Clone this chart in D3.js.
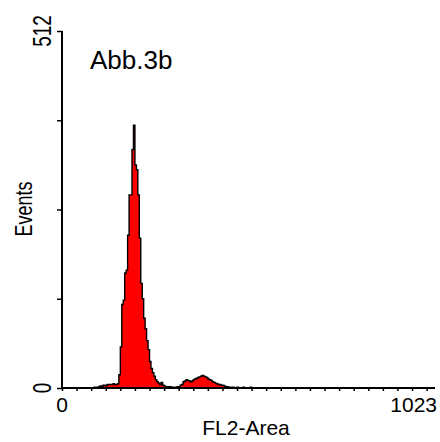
<!DOCTYPE html>
<html>
<head>
<meta charset="utf-8">
<script src="https://cdn.jsdelivr.net/npm/d3@7"></script>
<style>
body { margin: 0; background: #fff; }
text { font-family: Arial, "Liberation Sans", sans-serif; fill: #000; }
</style>
</head>
<body>
<div id="chart"></div>
<script>
// histogram counts, 4 channels per bin, first bin starts at channel 88
const binWidth = 4
const firstChannel = 88
const counts = [
	1, 0, 1, 2, 3, 2, 4, 4, 3, 5, 5, 5, 5, 6, 5, 5, 6,
	19, 59, 120, 126, 165, 169, 219, 277, 277, 342, 377,
	320, 313, 277, 215, 150, 128, 100, 85, 68, 55, 38,
	28, 22, 17, 12, 9, 7, 5, 8, 4, 3,
	2, 2, 1, 2, 1, 1, 1, 1, 2, 1, 4, 5,
	9, 10, 12, 11, 10, 9, 10, 12, 13, 14, 15, 16, 17, 18, 17, 16, 15, 13, 12, 11, 9, 8, 7, 6, 5, 5, 4, 4, 3, 2, 2, 1, 1,
	0, 1, 0, 0, 1, 0, 0, 0, 1, 0, 0, 0, 0, 1, 0, 0, 0, 0, 0, 0
]
const xTicks = d3.range(0, 1024, 40)
const yTicks = [0, 128, 256, 384, 512]
const xLabels = [0, 1023]
const yLabels = [0, 512]
const title = "Abb.3b"
const xTitle = "FL2-Area"
const yTitle = "Events"

const width = 440, height = 442

const svg = d3.select("#chart").append("svg").attr("width", width).attr("height", height)

const x = d3.scaleLinear().domain([0, 1023]).range([62, 435])
const y = d3.scaleLinear().domain([0, 512]).range([388, 31])

let points = counts.map((c, i) => ({ ch: firstChannel + i * binWidth, c: c }))
points.unshift({ ch: 0, c: 0 })
points.push({ ch: firstChannel + counts.length * binWidth, c: 0 })
points.push({ ch: 1023, c: 0 })

const area = d3.area()
	.curve(d3.curveStepAfter)
	.x(d => x(d.ch))
	.y0(y(0))
	.y1(d => y(d.c))

const line = d3.line()
	.curve(d3.curveStepAfter)
	.x(d => x(d.ch))
	.y(d => y(d.c))

svg.append("path").datum(points).attr("d", area).attr("fill", "#ff0000")
svg.append("path").datum(points).attr("d", line)
	.attr("fill", "none").attr("stroke", "#000").attr("stroke-width", 1.4)

// axes
const xAxis = svg.append("g").attr("transform", `translate(0, ${y(0)})`)
	.call(d3.axisBottom(x).tickValues(xTicks).tickSize(3).tickFormat(""))
xAxis.select(".domain").attr("d", `M${x(0)},0H${x(1023)}`).attr("stroke-width", 2)
xAxis.selectAll(".tick line").attr("stroke-width", 1.5)

const yAxis = svg.append("g").attr("transform", `translate(${x(0)}, 0)`)
	.call(d3.axisLeft(y).tickValues(yTicks).tickSize(5).tickFormat(""))
yAxis.select(".domain").attr("d", `M0,${y(512)}V${y(0)}`).attr("stroke-width", 2)
yAxis.selectAll(".tick line").attr("stroke-width", 1.5)

// labels
svg.selectAll(".xlab")
	.data(xLabels)
	.enter()
	.append("text")
	.attr("class", "xlab")
	.attr("x", (d, i) => i === 0 ? x(d) : 437)
	.attr("y", 412)
	.attr("text-anchor", (d, i) => i === 0 ? "middle" : "end")
	.style("font-size", "21px")
	.text(d => d)

svg.selectAll(".ylab")
	.data(yLabels)
	.enter()
	.append("text")
	.attr("class", "ylab")
	.attr("transform", d => `translate(51, ${y(d)}) rotate(-90) scale(1, 1.35)`)
	.attr("text-anchor", "middle")
	.style("font-size", "19px")
	.text(d => d)

svg.append("text")
	.attr("transform", "translate(32, 209) rotate(-90) scale(1, 1.35)")
	.attr("text-anchor", "middle")
	.style("font-size", "18px")
	.text(yTitle)

svg.append("text")
	.attr("x", 246)
	.attr("y", 435)
	.attr("text-anchor", "middle")
	.style("font-size", "21px")
	.text(xTitle)

svg.append("text")
	.attr("x", 90)
	.attr("y", 69)
	.style("font-size", "26px")
	.text(title)
</script>
</body>
</html>
